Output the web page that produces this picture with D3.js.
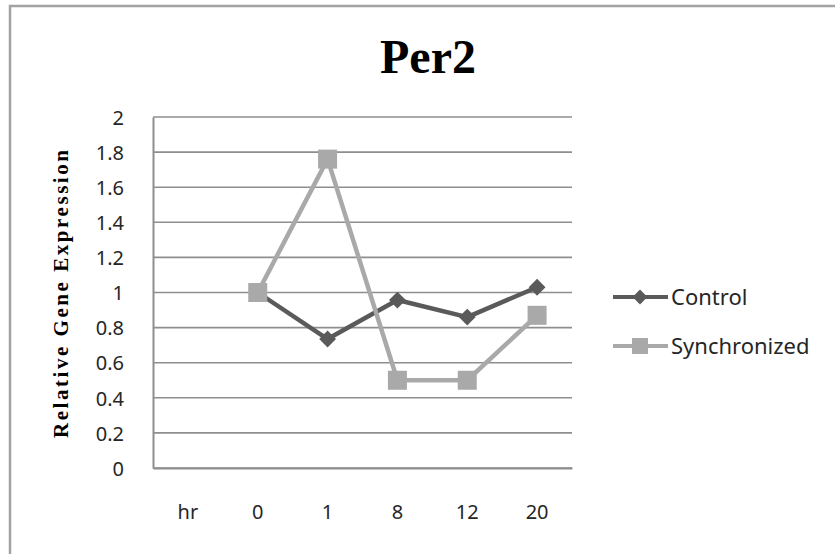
<!DOCTYPE html>
<html>
<head>
<meta charset="utf-8">
<script src="https://cdn.jsdelivr.net/npm/d3@7"></script>
<style>
  html, body { margin: 0; padding: 0; background: #fff; }
  svg { display: block; }
</style>
</head>
<body>
<svg id="chart" width="835" height="554"></svg>
<script>
// Per2 relative expression over time
const categories = ["hr", "0", "1", "8", "12", "20"];
const controlValues = [null, 1.0, 0.735, 0.957, 0.86, 1.03];
const synchronizedValues = [null, 1.0, 1.76, 0.5, 0.5, 0.87];
const yTicks = [0, 0.2, 0.4, 0.6, 0.8, 1, 1.2, 1.4, 1.6, 1.8, 2];
const seriesNames = ["Control", "Synchronized"];

const svg = d3.select("#chart");
const W = 835, H = 554;
const plot = { left: 153, right: 572, top: 117, bottom: 468 };
const colors = { Control: "#5a5a5a", Synchronized: "#a9a9a9" };
const labelFont = "'Noto Sans', 'Open Sans', sans-serif";

// outer chart frame (runs off the right and bottom edges)
svg.append("rect")
  .attr("x", 10).attr("y", 6)
  .attr("width", W + 20).attr("height", H + 20)
  .attr("fill", "#fff")
  .attr("stroke", "#a3a3a3").attr("stroke-width", 2.5);

const x = d3.scaleBand().domain(categories).range([plot.left, plot.right]).paddingInner(0).paddingOuter(0);
const y = d3.scaleLinear().domain([0, 2]).range([plot.bottom, plot.top]);

// horizontal gridlines
svg.append("g")
  .selectAll("line")
  .data(yTicks)
  .join("line")
  .attr("x1", plot.left).attr("x2", plot.right)
  .attr("y1", d => y(d)).attr("y2", d => y(d))
  .attr("stroke", "#8e8e8e").attr("stroke-width", 1.6);

// y axis
const yAxis = svg.append("g")
  .attr("transform", `translate(${plot.left},0)`)
  .call(d3.axisLeft(y).tickValues(yTicks).tickSize(0).tickPadding(29).tickFormat(d3.format("~g")));
yAxis.attr("font-size", null).attr("font-family", null);
yAxis.select(".domain").attr("stroke", "#8e8e8e").attr("stroke-width", 2);
yAxis.selectAll("text")
  .style("font-family", labelFont).style("font-size", "20px").attr("fill", "#262626")
  .attr("dy", "0.36em");

// x axis
const xAxis = svg.append("g")
  .attr("transform", `translate(0,${plot.bottom})`)
  .call(d3.axisBottom(x).tickSize(0).tickPadding(37));
xAxis.attr("font-size", null).attr("font-family", null);
xAxis.select(".domain").attr("stroke", "#8e8e8e").attr("stroke-width", 2);
xAxis.selectAll("text")
  .style("font-family", labelFont).style("font-size", "20px").attr("fill", "#262626");

// title
svg.append("text")
  .attr("x", 428).attr("y", 73)
  .attr("text-anchor", "middle")
  .style("font-family", "'Liberation Serif', 'DejaVu Serif', serif")
  .style("font-weight", "bold").style("font-size", "48px")
  .attr("fill", "#000")
  .text("Per2");

// y axis title
svg.append("text")
  .attr("transform", `translate(68,${(150 + 438) / 2}) rotate(-90)`)
  .attr("text-anchor", "middle")
  .style("font-family", "'Liberation Serif', 'DejaVu Serif', serif")
  .style("font-weight", "bold").style("font-size", "21px")
  .attr("textLength", 288).attr("lengthAdjust", "spacing")
  .attr("fill", "#000")
  .text("Relative Gene Expression");

const line = d3.line()
  .defined(d => d.v !== null)
  .x(d => x(d.c) + x.bandwidth() / 2)
  .y(d => y(d.v));

const diamond = d3.symbol().type(d3.symbolDiamond2);

function drawSeries(name, values, marker) {
  const pts = categories.map((c, i) => ({ c, v: values[i] }));
  const g = svg.append("g");
  g.append("path")
    .datum(pts)
    .attr("d", line)
    .attr("fill", "none")
    .attr("stroke", colors[name])
    .attr("stroke-width", 4.5)
    .attr("stroke-linejoin", "round");
  const valid = pts.filter(d => d.v !== null);
  if (marker === "diamond") {
    g.selectAll("path.m").data(valid).join("path")
      .attr("class", "m")
      .attr("transform", d => `translate(${x(d.c) + x.bandwidth() / 2},${y(d.v)})`)
      .attr("d", diamond.size(180))
      .attr("fill", colors[name]);
  } else {
    const s = 19;
    g.selectAll("rect.m").data(valid).join("rect")
      .attr("class", "m")
      .attr("x", d => x(d.c) + x.bandwidth() / 2 - s / 2)
      .attr("y", d => y(d.v) - s / 2)
      .attr("width", s).attr("height", s)
      .attr("fill", colors[name]);
  }
}

drawSeries("Control", controlValues, "diamond");
drawSeries("Synchronized", synchronizedValues, "square");

// legend
const legend = svg.append("g");
seriesNames.forEach((name, i) => {
  const ly = 297 + i * 49;
  legend.append("line")
    .attr("x1", 613).attr("x2", 668).attr("y1", ly).attr("y2", ly)
    .attr("stroke", colors[name]).attr("stroke-width", 4);
  if (name === "Control") {
    legend.append("path")
      .attr("transform", `translate(640,${ly})`)
      .attr("d", diamond.size(140))
      .attr("fill", colors[name]);
  } else {
    legend.append("rect")
      .attr("x", 640 - 8).attr("y", ly - 8)
      .attr("width", 16).attr("height", 16)
      .attr("fill", colors[name]);
  }
  legend.append("text")
    .attr("x", 671).attr("y", ly)
    .attr("dy", "0.36em")
    .style("font-family", labelFont).style("font-size", "22px")
    .attr("fill", "#262626")
    .text(name);
});
</script>
</body>
</html>
